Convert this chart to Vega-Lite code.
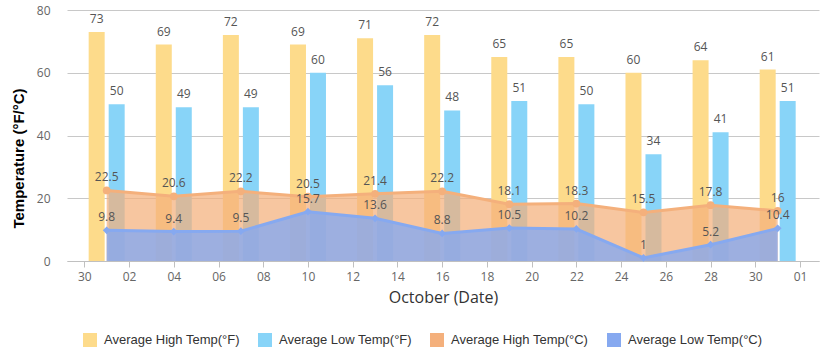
{
  "$schema": "https://vega.github.io/schema/vega-lite/v6.json",
  "width": 752,
  "height": 251,
  "autosize": {"type": "none"},
  "padding": {"left": 67, "top": 10, "right": 11, "bottom": 101},
  "background": "white",
  "config": {
    "view": {"stroke": null},
    "font": "Open Sans"
  },
  "data": {
    "values": [
      {"date": "2023-10-01", "hf": 73, "lf": 50, "hc": 22.5, "lc": 9.8},
      {"date": "2023-10-04", "hf": 69, "lf": 49, "hc": 20.6, "lc": 9.4},
      {"date": "2023-10-07", "hf": 72, "lf": 49, "hc": 22.2, "lc": 9.5},
      {"date": "2023-10-10", "hf": 69, "lf": 60, "hc": 20.5, "lc": 15.7},
      {"date": "2023-10-13", "hf": 71, "lf": 56, "hc": 21.4, "lc": 13.6},
      {"date": "2023-10-16", "hf": 72, "lf": 48, "hc": 22.2, "lc": 8.8},
      {"date": "2023-10-19", "hf": 65, "lf": 51, "hc": 18.1, "lc": 10.5},
      {"date": "2023-10-22", "hf": 65, "lf": 50, "hc": 18.3, "lc": 10.2},
      {"date": "2023-10-25", "hf": 60, "lf": 34, "hc": 15.5, "lc": 1},
      {"date": "2023-10-28", "hf": 64, "lf": 41, "hc": 17.8, "lc": 5.2},
      {"date": "2023-10-31", "hf": 61, "lf": 51, "hc": 16, "lc": 10.4}
    ]
  },
  "encoding": {
    "x": {
      "field": "date",
      "type": "temporal",
      "scale": {
        "type": "utc",
        "nice": false,
        "padding": 0,
        "domain": [
          {"year": 2023, "month": 9, "date": 29, "hours": 5, "minutes": 26, "utc": true},
          {"year": 2023, "month": 11, "date": 1, "hours": 20, "minutes": 20, "utc": true}
        ]
      },
      "axis": {
        "title": "October (Date)",
        "format": "%d",
        "values": [
          {"year": 2023, "month": 9, "date": 30, "utc": true},
          {"year": 2023, "month": 10, "date": 2, "utc": true},
          {"year": 2023, "month": 10, "date": 4, "utc": true},
          {"year": 2023, "month": 10, "date": 6, "utc": true},
          {"year": 2023, "month": 10, "date": 8, "utc": true},
          {"year": 2023, "month": 10, "date": 10, "utc": true},
          {"year": 2023, "month": 10, "date": 12, "utc": true},
          {"year": 2023, "month": 10, "date": 14, "utc": true},
          {"year": 2023, "month": 10, "date": 16, "utc": true},
          {"year": 2023, "month": 10, "date": 18, "utc": true},
          {"year": 2023, "month": 10, "date": 20, "utc": true},
          {"year": 2023, "month": 10, "date": 22, "utc": true},
          {"year": 2023, "month": 10, "date": 24, "utc": true},
          {"year": 2023, "month": 10, "date": 26, "utc": true},
          {"year": 2023, "month": 10, "date": 28, "utc": true},
          {"year": 2023, "month": 10, "date": 30, "utc": true},
          {"year": 2023, "month": 11, "date": 1, "utc": true}
        ],
        "grid": false,
        "domainColor": "#c0c0c0",
        "tickColor": "#c0c0c0",
        "tickSize": 6,
        "labelColor": "#666666",
        "labelFontSize": 12,
        "labelPadding": 4,
        "labelFlush": false,
        "labelOverlap": false,
        "titleFontSize": 16,
        "titleFontWeight": "normal",
        "titleColor": "#333333",
        "titlePadding": 7
      }
    }
  },
  "layer": [
    {
      "mark": {"type": "bar", "width": 16, "xOffset": -10},
      "encoding": {
        "y": {
          "field": "hf",
          "type": "quantitative",
          "scale": {"domain": [0, 80], "nice": false},
          "axis": {
            "title": "Temperature (°F/°C)",
            "values": [0, 20, 40, 60, 80],
            "grid": true,
            "gridColor": "#c8c8c8",
            "domain": false,
            "ticks": false,
            "labelPadding": 17,
            "labelColor": "#666666",
            "labelFontSize": 12,
            "titleFont": "Liberation Sans",
            "titleFontSize": 15,
            "titleFontWeight": "bold",
            "titleColor": "#000000",
            "titlePadding": 10,
            "titleY": 148
          }
        },
        "color": {
          "datum": "Average High Temp(°F)",
          "scale": {
            "domain": ["Average High Temp(°F)", "Average Low Temp(°F)", "Average High Temp(°C)", "Average Low Temp(°C)"],
            "range": ["#fddb8b", "#88d4f8", "#f4b07c", "#86a9f0"]
          },
          "legend": {
            "title": null,
            "orient": "none",
            "direction": "horizontal",
            "legendX": 16,
            "legendY": 323,
            "symbolType": "square",
            "symbolSize": 196,
            "symbolStrokeWidth": 0,
            "symbolOpacity": 1,
            "labelFont": "Liberation Sans",
            "labelFontSize": 13,
            "labelColor": "#333333",
            "labelOffset": 7,
            "labelLimit": 300,
            "columnPadding": 18,
            "padding": 0
          }
        }
      }
    },
    {
      "mark": {"type": "bar", "width": 16, "xOffset": 10},
      "encoding": {
        "y": {"field": "lf", "type": "quantitative"},
        "color": {"datum": "Average Low Temp(°F)", "legend": null}
      }
    },
    {
      "mark": {"type": "text", "xOffset": -10, "dy": -6, "baseline": "bottom", "fontSize": 12, "color": "#555555"},
      "encoding": {
        "y": {"field": "hf", "type": "quantitative"},
        "text": {"field": "hf", "type": "nominal"}
      }
    },
    {
      "mark": {"type": "text", "xOffset": 10, "dy": -6, "baseline": "bottom", "fontSize": 12, "color": "#555555"},
      "encoding": {
        "y": {"field": "lf", "type": "quantitative"},
        "text": {"field": "lf", "type": "nominal"}
      }
    },
    {
      "mark": {"type": "area", "fillOpacity": 0.72},
      "encoding": {
        "y": {"field": "hc", "type": "quantitative"},
        "color": {"datum": "Average High Temp(°C)", "legend": null}
      }
    },
    {
      "mark": {"type": "line", "strokeWidth": 3},
      "encoding": {
        "y": {"field": "hc", "type": "quantitative"},
        "color": {"datum": "Average High Temp(°C)", "legend": null}
      }
    },
    {
      "mark": {"type": "point", "filled": true, "size": 60, "opacity": 1, "shape": "circle"},
      "encoding": {
        "y": {"field": "hc", "type": "quantitative"},
        "color": {"datum": "Average High Temp(°C)", "legend": null}
      }
    },
    {
      "mark": {"type": "area", "fillOpacity": 0.8},
      "encoding": {
        "y": {"field": "lc", "type": "quantitative"},
        "color": {"datum": "Average Low Temp(°C)", "legend": null}
      }
    },
    {
      "mark": {"type": "line", "strokeWidth": 3},
      "encoding": {
        "y": {"field": "lc", "type": "quantitative"},
        "color": {"datum": "Average Low Temp(°C)", "legend": null}
      }
    },
    {
      "mark": {"type": "point", "filled": true, "size": 60, "opacity": 1, "shape": "diamond"},
      "encoding": {
        "y": {"field": "lc", "type": "quantitative"},
        "color": {"datum": "Average Low Temp(°C)", "legend": null}
      }
    },
    {
      "mark": {"type": "text", "dy": -6, "baseline": "bottom", "fontSize": 12, "color": "#555555"},
      "encoding": {
        "y": {"field": "hc", "type": "quantitative"},
        "text": {"field": "hc", "type": "nominal"}
      }
    },
    {
      "mark": {"type": "text", "dy": -6, "baseline": "bottom", "fontSize": 12, "color": "#555555"},
      "encoding": {
        "y": {"field": "lc", "type": "quantitative"},
        "text": {"field": "lc", "type": "nominal"}
      }
    }
  ]
}
